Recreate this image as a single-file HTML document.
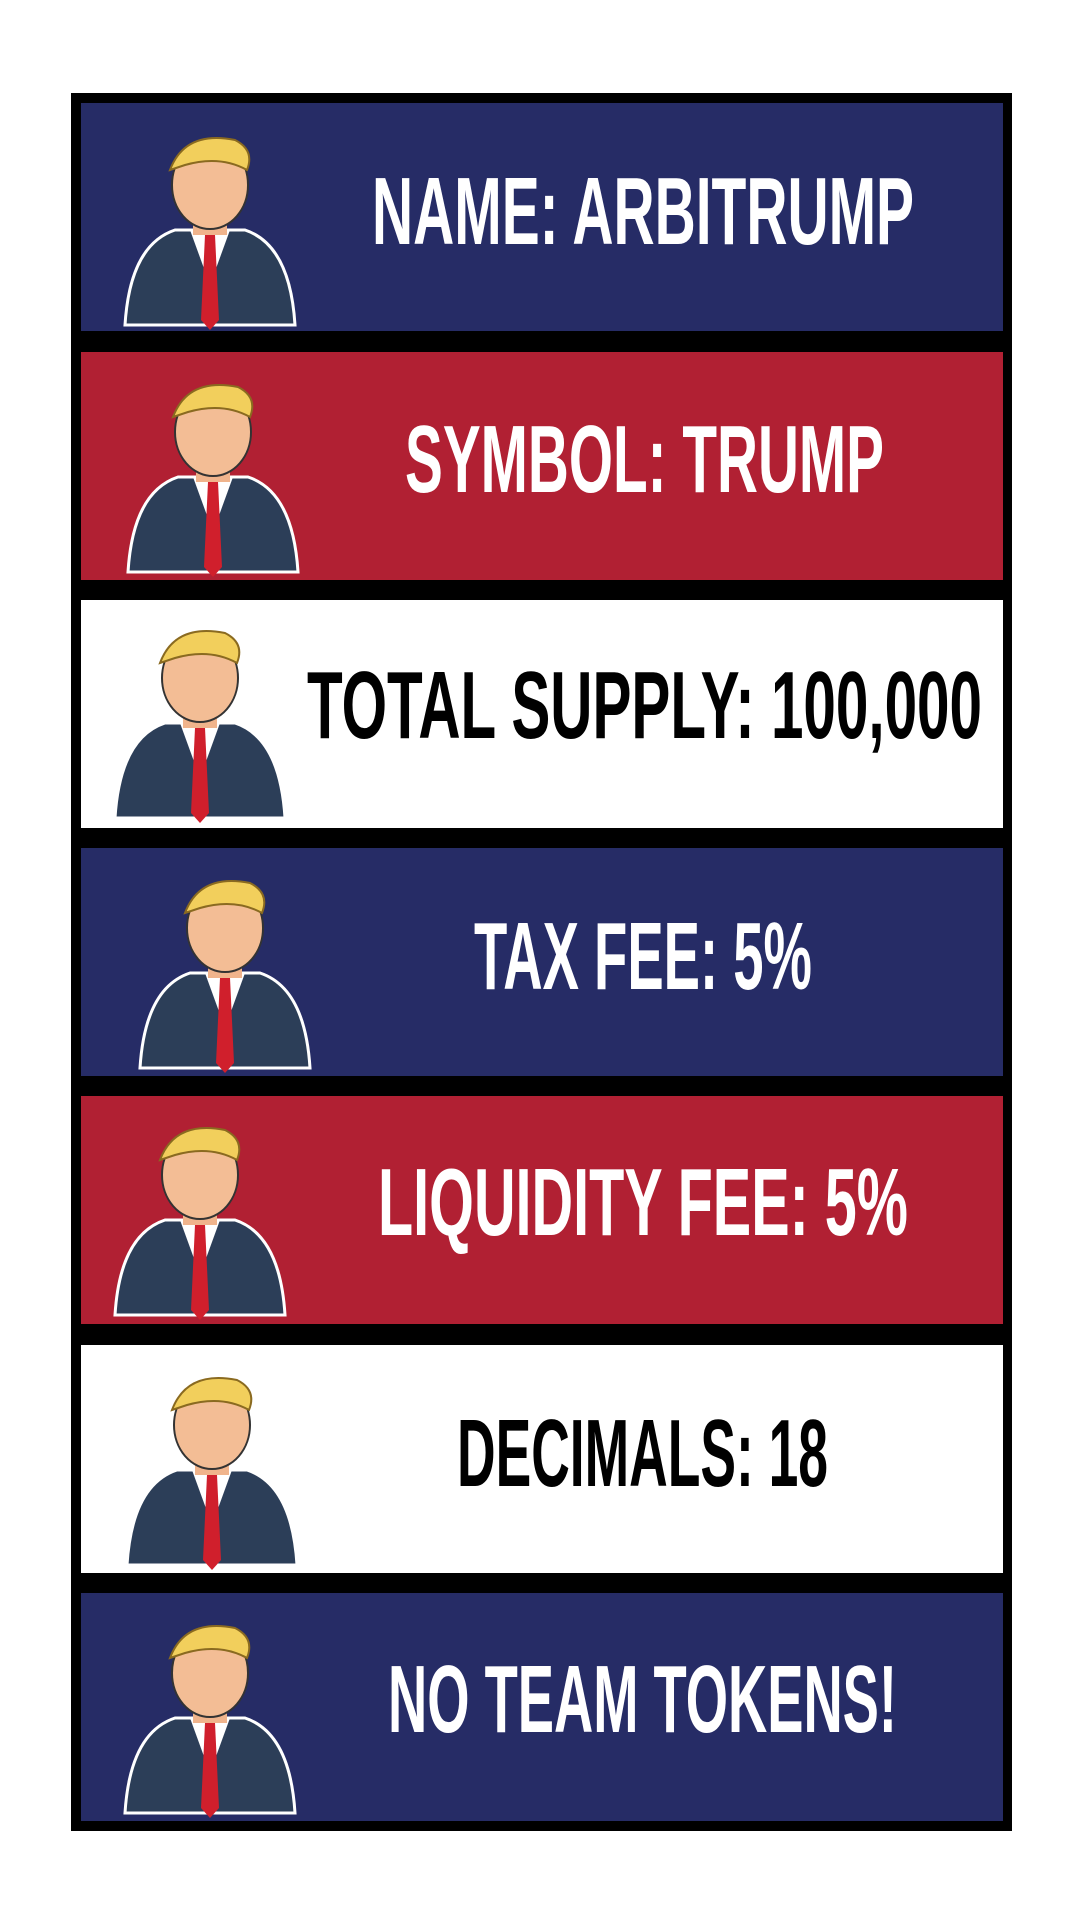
<!DOCTYPE html>
<html><head><meta charset="utf-8"><style>
html,body{margin:0;padding:0;background:#fff;width:1080px;height:1920px;overflow:hidden}
</style></head><body>
<svg width="1080" height="1920" viewBox="0 0 1080 1920" xmlns="http://www.w3.org/2000/svg">
<defs>
<g id="fig">
  <path d="M0 200 Q5 120 50 105 L120 105 Q165 120 170 200 Z" fill="#2c3e58" stroke="#fff" stroke-width="3"/>
  <path d="M65 105 L85 160 L105 105 Z" fill="#fff"/>
  <path d="M80 110 L90 110 L94 195 L85 205 L76 195 Z" fill="#d01f2c"/>
  <rect x="68" y="80" width="34" height="30" fill="#f0b48c"/>
  <ellipse cx="85" cy="60" rx="38" ry="44" fill="#f3bd95" stroke="#333" stroke-width="2"/>
  <path d="M45 45 Q60 5 110 15 Q130 25 122 45 Q95 30 60 40 Z" fill="#f2cf5c" stroke="#8a6a20" stroke-width="2"/>
</g>
</defs>
<rect x="71" y="93" width="941" height="1738" fill="#000"/>
<rect x="81" y="103" width="922" height="228" fill="#262c66"/>
<rect x="81" y="352" width="922" height="228" fill="#b12033"/>
<rect x="81" y="600" width="922" height="228" fill="#fff"/>
<rect x="81" y="848" width="922" height="228" fill="#262c66"/>
<rect x="81" y="1096" width="922" height="228" fill="#b12033"/>
<rect x="81" y="1345" width="922" height="228" fill="#fff"/>
<rect x="81" y="1593" width="922" height="228" fill="#262c66"/>
<use href="#fig" x="125" y="125"/>
<use href="#fig" x="128" y="372"/>
<use href="#fig" x="115" y="618"/>
<use href="#fig" x="140" y="868"/>
<use href="#fig" x="115" y="1115"/>
<use href="#fig" x="127" y="1365"/>
<use href="#fig" x="125" y="1613"/>
<g font-family="Liberation Sans, sans-serif" font-weight="bold" font-size="96" lengthAdjust="spacingAndGlyphs">
<text x="372" y="244" textLength="542" lengthAdjust="spacingAndGlyphs" fill="#fff">NAME: ARBITRUMP</text>
<text x="405" y="492" textLength="479" lengthAdjust="spacingAndGlyphs" fill="#fff">SYMBOL: TRUMP</text>
<text x="307" y="738" textLength="675" lengthAdjust="spacingAndGlyphs" fill="#000">TOTAL SUPPLY: 100,000</text>
<text x="474" y="989" textLength="338" lengthAdjust="spacingAndGlyphs" fill="#fff">TAX FEE: 5%</text>
<text x="378" y="1235" textLength="530" lengthAdjust="spacingAndGlyphs" fill="#fff">LIQUIDITY FEE: 5%</text>
<text x="457" y="1486" textLength="371" lengthAdjust="spacingAndGlyphs" fill="#000">DECIMALS: 18</text>
<text x="388" y="1732" textLength="509" lengthAdjust="spacingAndGlyphs" fill="#fff">NO TEAM TOKENS!</text>
</g>
</svg>
</body></html>
